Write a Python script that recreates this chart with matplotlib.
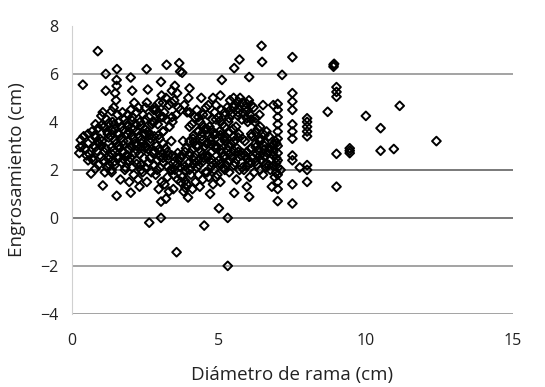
import matplotlib
matplotlib.use("Agg")
import matplotlib.pyplot as plt

plt.rcParams['font.family'] = ['Open Sans', 'DejaVu Sans']

# Diámetro de rama (cm) and Engrosamiento (cm), read strip by strip
diametro = [
    0.25, 0.35, 0.3, 0.45, 0.4, 0.5, 0.55, 0.28, 0.37,
    0.65, 0.9, 0.7, 0.85, 0.75, 0.95, 0.68, 0.8, 0.88, 0.72, 0.92, 0.6, 0.78,
    1.05, 1.12, 1.2, 1.08, 1.25, 1.15, 1.02, 1.22, 1.1, 1.18, 1.05, 1.15, 1.15, 1.28, 1.0, 1.2, 1.1, 1.25,
    1.52, 1.35, 1.45, 1.55, 1.4, 1.5, 1.32, 1.48, 1.38, 1.55, 1.42, 1.5, 1.47, 1.52, 1.52, 1.53, 1.35, 1.58, 1.44, 1.37, 1.56,
    1.65, 1.8, 1.7, 1.85, 1.62, 1.75, 1.88, 1.68, 1.78, 1.72, 1.82, 1.66, 1.76, 1.86,
    2.0, 1.95, 2.1, 2.05, 1.92, 2.15, 2.0, 2.1, 1.95, 2.18, 2.05, 2.0, 2.12, 2.05, 2.0, 1.98, 2.15, 2.08, 1.93, 2.2,
    2.3, 2.25, 2.4, 2.35, 2.45, 2.22, 2.38, 2.28, 2.48, 2.32, 2.42, 2.26, 2.36, 2.44, 2.3,
    2.63, 2.55, 2.7, 2.6, 2.75, 2.52, 2.68, 2.58, 2.72, 2.62, 2.78, 2.55, 2.58, 2.54, 2.66, 2.74, 2.6,
    3.03, 3.03, 2.95, 3.05, 2.85, 3.0, 2.9, 3.08, 2.88, 2.98, 3.1, 2.92, 3.02, 2.86, 2.96, 3.05, 3.03, 2.9, 3.0,
    3.2, 3.3, 3.15, 3.25, 3.35, 3.12, 3.28, 3.18, 3.32, 3.22, 3.14, 3.3, 3.2, 3.22, 3.27, 3.38,
    3.56, 3.45, 3.6, 3.5, 3.65, 3.42, 3.55, 3.62, 3.48, 3.58, 3.5, 3.68, 3.65, 3.55, 3.45, 3.6,
    3.95, 3.8, 3.9, 3.75, 3.85, 3.98, 3.72, 3.88, 3.78, 3.92, 3.82, 3.96, 4.0, 3.75, 3.86,
    4.1, 4.2, 4.05, 4.25, 4.15, 4.02, 4.22, 4.12, 4.28, 4.08, 4.18, 4.25, 4.1,
    4.5, 4.35, 4.45, 4.55, 4.32, 4.48, 4.38, 4.58, 4.42, 4.52, 4.36, 4.46, 4.56, 4.4, 4.5,
    4.7, 4.8, 4.65, 4.85, 4.75, 4.62, 4.88, 4.72, 4.82, 4.68, 4.78, 4.86, 4.64, 4.8, 4.74,
    5.0, 5.05, 4.95, 5.15, 5.0, 5.1, 4.92, 5.18, 5.02, 5.12, 4.98, 5.08, 5.05, 5.1, 5.15,
    5.3, 5.3, 5.35, 5.25, 5.45, 5.3, 5.4, 5.22, 5.48, 5.32, 5.42, 5.28, 5.38, 5.35,
    5.52, 5.6, 5.7, 5.55, 5.75, 5.62, 5.52, 5.68, 5.58, 5.78, 5.65, 5.55, 5.72, 5.52, 5.7, 5.6,
    6.03, 5.95, 6.05, 5.85, 6.0, 5.9, 6.08, 5.88, 5.98, 6.05, 5.92, 6.02, 6.03, 5.96,
    6.2, 6.3, 6.15, 6.35, 6.25, 6.12, 6.32, 6.22, 6.38, 6.18, 6.28,
    6.5, 6.6, 6.45, 6.65, 6.55, 6.42, 6.62, 6.5, 6.47, 6.45, 6.58,
    6.8, 6.9, 6.75, 6.95, 6.85, 6.72, 6.92, 6.85, 6.78,
    7.0, 7.0, 7.0, 7.0, 7.0, 7.0, 7.0, 7.0, 7.0, 7.0, 7.0, 7.0, 7.0, 7.0,
    7.15, 7.1,
    7.5, 7.5, 7.5, 7.5, 7.5, 7.5, 7.5, 7.5, 7.5, 7.5, 7.5,
    7.75,
    8.0, 8.0, 8.0, 8.0, 8.0, 8.0, 8.0, 8.0,
    8.7,
    8.9, 8.9, 8.92,
    9.0, 9.0, 9.0, 9.0, 9.0,
    9.45, 9.45, 9.45,
    10.0,
    10.5, 10.5,
    10.95,
    11.15,
    12.4,
]
engrosamiento = [
    2.7, 3.0, 3.25, 2.9, 3.4, 2.6, 3.1, 2.95, 5.55,
    1.85, 2.2, 2.5, 2.8, 3.0, 3.3, 3.6, 3.9, 6.95, 2.4, 3.1, 2.65, 3.45,
    1.35, 1.9, 2.1, 2.4, 2.6, 2.9, 3.2, 3.5, 3.8, 4.1, 4.4, 5.3, 6.0, 2.2, 3.0, 3.6, 2.75, 3.95,
    0.92, 1.9, 2.2, 2.5, 2.8, 3.1, 3.4, 3.7, 4.0, 4.3, 4.6, 4.9, 5.2, 5.5, 5.75, 6.2, 2.0, 3.0, 3.9, 2.65, 3.55,
    1.6, 2.0, 2.3, 2.6, 2.9, 3.2, 3.5, 3.8, 4.1, 4.4, 2.1, 3.3, 2.75, 3.95,
    1.05, 1.5, 1.8, 2.1, 2.4, 2.7, 3.0, 3.3, 3.6, 3.9, 4.2, 4.5, 4.8, 5.3, 5.85, 2.5, 3.1, 3.7, 2.85, 2.25,
    1.3, 1.6, 1.9, 2.2, 2.5, 2.8, 3.1, 3.4, 3.7, 4.0, 4.3, 4.6, 2.0, 3.5, 2.65,
    -0.2, 1.5, 1.9, 2.3, 2.7, 3.0, 3.3, 3.6, 3.9, 4.2, 4.5, 4.8, 5.35, 6.2, 2.5, 4.0, 2.85,
    0.0, 0.68, 1.2, 1.5, 1.8, 2.1, 2.4, 2.7, 3.0, 3.3, 3.6, 3.9, 4.2, 4.5, 4.8, 5.1, 5.67, 2.0, 2.55,
    0.8, 1.1, 1.4, 1.7, 2.0, 2.3, 2.6, 2.9, 3.8, 4.1, 4.4, 4.7, 5.0, 6.38, 2.45, 3.2,
    -1.43, 1.2, 1.6, 2.0, 2.4, 4.0, 4.3, 4.6, 4.9, 5.2, 5.5, 6.1, 6.45, 2.2, 1.8, 2.7,
    0.85, 1.1, 1.4, 1.7, 2.0, 2.3, 2.6, 2.9, 3.2, 4.4, 4.7, 5.0, 5.4, 6.05, 1.25,
    1.2, 1.5, 1.8, 2.1, 2.4, 2.7, 3.0, 3.3, 3.6, 3.9, 4.2, 4.5, 2.85,
    -0.32, 1.3, 1.6, 1.9, 2.2, 2.5, 2.8, 3.1, 3.4, 3.7, 4.0, 4.3, 4.6, 5.0, 2.95,
    1.0, 1.4, 1.7, 2.0, 2.3, 2.6, 2.9, 3.2, 3.5, 3.8, 4.1, 4.4, 4.7, 5.0, 2.45,
    0.4, 1.5, 1.8, 2.1, 2.4, 2.7, 3.0, 3.3, 3.6, 3.9, 4.2, 4.5, 5.1, 5.75, 2.55,
    -2.0, 0.0, 1.9, 2.2, 2.5, 2.8, 3.1, 3.4, 3.7, 4.0, 4.3, 4.6, 4.9, 2.65,
    1.04, 1.6, 2.0, 2.3, 2.6, 2.9, 3.2, 3.5, 3.8, 4.1, 4.4, 4.7, 5.0, 6.24, 6.6, 2.45,
    0.88, 1.3, 1.7, 2.0, 2.3, 2.6, 2.9, 3.2, 4.0, 4.3, 4.6, 4.9, 5.87, 2.45,
    1.9, 2.2, 2.5, 2.8, 3.1, 3.4, 3.7, 4.0, 4.3, 4.6, 2.65,
    1.8, 2.1, 2.4, 2.7, 3.0, 3.3, 3.6, 4.7, 6.5, 7.17, 2.25,
    1.3, 1.7, 2.0, 2.3, 2.6, 2.9, 3.2, 4.7, 2.45,
    0.7, 1.2, 1.5, 1.8, 2.1, 2.4, 2.7, 3.0, 3.3, 3.6, 3.9, 4.2, 4.5, 4.75,
    5.96, 2.0,
    0.6, 1.4, 2.4, 2.6, 3.3, 3.6, 3.9, 4.5, 4.85, 5.2, 6.7,
    2.1,
    1.5, 2.2, 3.4, 3.6, 3.8, 4.0, 4.15, 2.0,
    4.42,
    6.3, 6.38, 6.42,
    5.05, 5.25, 5.45, 2.67, 1.3,
    2.7, 2.8, 2.9,
    4.25,
    3.74, 2.8,
    2.87,
    4.67,
    3.2,
]

# extra points in the densest core of the cloud
diametro_nucleo = [
    0.9, 0.9, 1.25, 1.25, 1.45, 1.45, 1.75, 1.75, 1.75, 2.05, 2.05, 2.05,
    2.35, 2.35, 2.35, 2.65, 2.65, 2.95, 2.95, 2.95, 3.25, 3.25, 3.5, 3.5,
    3.85, 3.85, 3.85, 4.15, 4.15, 4.15, 4.15, 4.45, 4.45, 4.45, 4.45, 4.45,
    4.75, 4.75, 4.75, 4.75, 4.75, 5.05, 5.05, 5.05, 5.05, 5.05,
    5.35, 5.35, 5.35, 5.35, 5.35, 5.65, 5.65, 5.65, 5.65, 5.65,
    5.95, 5.95, 5.95, 5.95, 5.95, 6.25, 6.25, 6.25, 6.25,
    6.55, 6.55, 6.55, 6.55, 6.85, 6.85, 6.85,
]
engrosamiento_nucleo = [
    3.15, 3.75, 3.35, 2.45, 3.25, 2.35, 3.05, 3.65, 2.45, 3.45, 2.95, 4.05,
    2.95, 3.25, 3.85, 3.15, 3.45, 2.85, 3.45, 4.35, 2.15, 2.75, 2.55, 2.35,
    2.15, 2.75, 1.55, 2.25, 2.55, 3.15, 3.45, 2.35, 2.65, 3.25, 3.55, 3.85,
    2.75, 3.05, 3.35, 3.65, 2.15, 2.25, 2.85, 3.15, 3.45, 4.05,
    2.35, 2.95, 3.55, 4.15, 4.45, 2.75, 3.35, 4.25, 4.55, 4.85,
    2.15, 2.75, 4.15, 4.45, 4.75, 2.35, 2.95, 3.55, 4.15,
    2.55, 2.85, 3.15, 3.45, 2.15, 2.75, 3.05,
]

# further points filling the dark core
diametro_relleno = [
    0.55, 0.55, 0.8, 0.8, 0.8, 1.0, 1.0, 1.0, 1.35, 1.35, 1.35,
    1.6, 1.6, 1.6, 1.6, 1.9, 1.9, 1.9, 1.9, 2.2, 2.2, 2.2, 2.2,
    2.5, 2.5, 2.5, 2.5, 2.5, 2.8, 2.8, 2.8, 2.8, 2.8,
    3.1, 3.1, 3.1, 3.1, 3.1, 3.4, 3.4, 3.4, 3.4, 3.4, 3.7, 3.7, 3.7, 3.7,
    4.0, 4.0, 4.0, 4.0, 4.0, 4.3, 4.3, 4.3, 4.3, 4.3,
    4.6, 4.6, 4.6, 4.6, 4.6, 4.9, 4.9, 4.9, 4.9, 4.9, 4.9,
    5.2, 5.2, 5.2, 5.2, 5.2, 5.5, 5.5, 5.5, 5.5, 5.5,
    5.8, 5.8, 5.8, 5.8, 5.8, 6.1, 6.1, 6.1, 6.1, 6.1,
    6.4, 6.4, 6.4, 6.4, 6.7, 6.7, 6.7, 6.95, 6.95, 6.95,
]
engrosamiento_relleno = [
    3.5, 2.4, 2.95, 3.35, 2.05, 2.55, 3.85, 4.25, 2.95, 3.65, 4.45,
    2.5, 3.0, 3.5, 4.0, 2.6, 3.2, 3.8, 4.3, 2.4, 3.0, 3.6, 4.4,
    2.1, 2.9, 3.5, 4.1, 4.6, 2.2, 2.8, 3.4, 4.0, 4.6,
    2.5, 3.1, 3.6, 4.2, 4.8, 2.0, 2.6, 4.2, 4.8, 5.3, 2.1, 2.5, 1.5, 4.5,
    2.0, 2.6, 3.2, 3.8, 4.4, 1.8, 2.4, 3.0, 3.6, 4.2,
    1.9, 2.5, 3.1, 3.7, 4.3, 1.7, 2.3, 2.9, 3.5, 4.1, 4.7,
    2.0, 2.6, 3.2, 3.8, 4.4, 2.2, 2.8, 3.4, 4.6, 5.0,
    2.1, 2.7, 3.3, 4.4, 4.8, 2.3, 2.9, 3.5, 4.1, 4.7,
    2.0, 2.6, 3.2, 3.8, 2.2, 2.8, 3.4, 1.9, 2.5, 3.1,
]

x_ticks = [0, 5, 10, 15]
y_ticks = [-4, -2, 0, 2, 4, 6, 8]
grid_values = [-4, -2, 0, 2, 6]

fig = plt.figure(figsize=(5.45, 3.87), dpi=100)
ax = fig.add_axes([0.132, 0.189, 0.809, 0.744])

for g in grid_values:
    col = '#555555' if g in (0, 2) else '#8a8a8a'
    ax.axhline(g, color=col, lw=1.1, zorder=1)

todos_x = diametro + diametro_nucleo + diametro_relleno
todos_y = engrosamiento + engrosamiento_nucleo + engrosamiento_relleno
ax.scatter(todos_x, todos_y,
           marker='D', s=20, facecolors='none', edgecolors='black',
           linewidths=1.4, zorder=3)

ax.set_xlim(0, 15)
ax.set_ylim(-4, 8)
ax.set_xticks(x_ticks)
ax.set_yticks(y_ticks)
ax.tick_params(axis='both', length=0, labelsize=11.5, colors='#222222')
ax.tick_params(axis='y', pad=10)
ax.tick_params(axis='x', pad=14)

for side in ('top', 'right', 'bottom'):
    ax.spines[side].set_visible(False)
ax.spines['left'].set_color('#d0d0d0')
ax.spines['left'].set_linewidth(0.8)

ax.set_xlabel('Diámetro de rama (cm)', fontsize=13.5, color='#222222', labelpad=12)
ax.set_ylabel('Engrosamiento (cm)', fontsize=13.5, color='#222222', labelpad=10)

fig.savefig('out.png', dpi=100)
